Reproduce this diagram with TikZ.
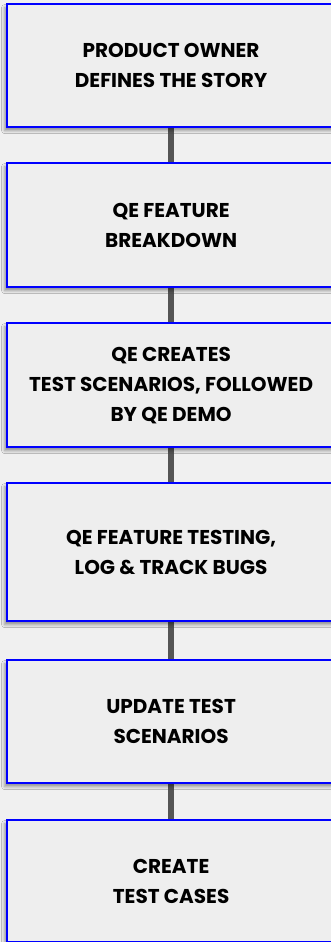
\documentclass[tikz,border=0pt]{standalone}
\usepackage{fontspec}
\setmainfont{Poppins}
\usetikzlibrary{shadows.blur,backgrounds}
\definecolor{bg}{HTML}{F0F0F0}
\definecolor{boxfill}{HTML}{EEEEEE}
\definecolor{boxblue}{HTML}{0000FF}
\definecolor{conn}{HTML}{555555}
\begin{document}
\begin{tikzpicture}[x=1pt,y=-1pt,
  stepbox/.style={draw=boxblue, line width=2.2pt, fill=boxfill, minimum width=328pt,
    anchor=north west, align=center, inner sep=0pt, text=black,
    font=\bfseries\fontsize{20}{30}\selectfont,
    blur shadow={shadow xshift=-2.5pt, shadow yshift=-3.5pt, shadow blur radius=3pt, shadow opacity=40}},
  link/.style={draw=conn, line width=6pt}]
\useasboundingbox (0,0) rectangle (331,942);
\node[stepbox, minimum height=123pt] (b1) at (6,3) {PRODUCT OWNER\\DEFINES THE STORY};
\node[stepbox, minimum height=124pt] (b2) at (6,162) {QE FEATURE\\BREAKDOWN};
\node[stepbox, minimum height=124pt] (b3) at (6,322) {QE CREATES\\TEST SCENARIOS, FOLLOWED\\BY QE DEMO};
\node[stepbox, minimum height=138pt] (b4) at (6,482) {QE FEATURE TESTING,\\LOG \& TRACK BUGS};
\node[stepbox, minimum height=123pt] (b5) at (6,659) {UPDATE TEST\\SCENARIOS};
\node[stepbox, minimum height=122pt] (b6) at (6,819) {CREATE\\TEST CASES};
\begin{scope}[on background layer]
\fill[bg] (0,0) rectangle (331,942);
\draw[link] (b1.south) -- (b2.north);
\draw[link] (b2.south) -- (b3.north);
\draw[link] (b3.south) -- (b4.north);
\draw[link] (b4.south) -- (b5.north);
\draw[link] (b5.south) -- (b6.north);
\end{scope}
\end{tikzpicture}
\end{document}
